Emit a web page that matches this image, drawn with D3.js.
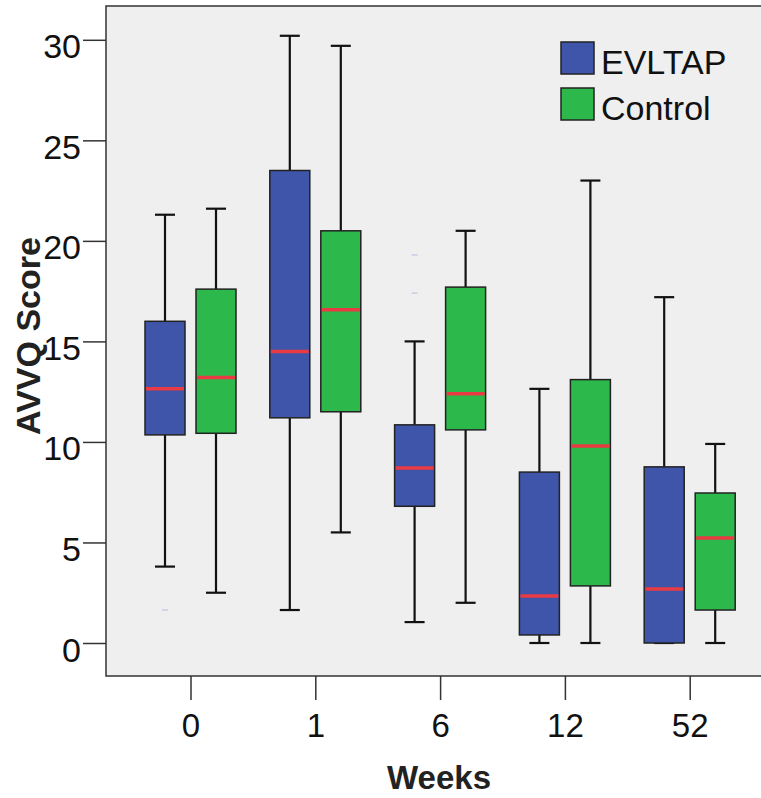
<!DOCTYPE html>
<html><head><meta charset="utf-8">
<script src="https://cdn.jsdelivr.net/npm/d3@7"></script>
<style>body{margin:0;background:#fff}svg{display:block}</style>
</head><body>
<svg id="chart" width="761" height="798"></svg>
<script>
const weeks = ["0","1","6","12","52"];
const groups = ["EVLTAP","Control"];
const colors = ["#3f55a9","#2cb84a"];
// [whiskerLow, q1, median, q3, whiskerHigh]
const evltap = [
  [3.8, 10.35, 12.64, 16.0, 21.3],
  [1.64, 11.2, 14.5, 23.5, 30.2],
  [1.04, 6.8, 8.7, 10.85, 15.0],
  [0, 0.4, 2.34, 8.5, 12.64],
  [0, 0, 2.69, 8.76, 17.2]
];
const control = [
  [2.5, 10.43, 13.2, 17.6, 21.6],
  [5.5, 11.5, 16.57, 20.5, 29.7],
  [2.0, 10.6, 12.4, 17.7, 20.5],
  [0, 2.84, 9.8, 13.1, 23.0],
  [0, 1.64, 5.22, 7.46, 9.9]
];
// outliers: [weekIndex, groupIndex, value]
const outliers = [[0,0,1.64],[2,0,19.3],[2,0,17.4]];
const yTicks = [0,5,10,15,20,25,30];

const svg = d3.select("#chart");
const L = 106, R = 774, T = 6, B = 676;
const x = d3.scalePoint().domain(weeks).range([190.5, 689.7]);
const y = d3.scaleLinear().domain([0,30]).range([643, 39.8]);
const off = d3.scaleOrdinal().domain(groups).range([-25.5, 25.5]);
const boxW = 40, capW = 20;
const font = "'Liberation Sans', Arial, sans-serif";

svg.append("rect").attr("x",L).attr("y",T).attr("width",R-L).attr("height",B-T)
  .attr("fill","#efefef").attr("stroke","#333").attr("stroke-width",1.5);

// axes
const yAxis = svg.append("g").attr("transform",`translate(${L},0)`)
  .call(d3.axisLeft(y).tickValues(yTicks).tickSize(23).tickPadding(2));
yAxis.select(".domain").remove();
yAxis.selectAll("line").attr("stroke","#333").attr("stroke-width",1.5);
yAxis.selectAll("text").attr("font-family",font).attr("font-size",34).attr("fill","#111").attr("dy",18);

const xAxis = svg.append("g").attr("transform",`translate(0,${B})`)
  .call(d3.axisBottom(x).tickSize(24).tickPadding(6));
xAxis.select(".domain").remove();
xAxis.selectAll("line").attr("stroke","#333").attr("stroke-width",1.5);
xAxis.selectAll("text").attr("font-family",font).attr("font-size",33).attr("fill","#111")
  .attr("y",61).attr("dy",0);

const data = [];
weeks.forEach((w,i)=>{
  data.push({w, g:groups[0], c:colors[0], s:evltap[i]});
  data.push({w, g:groups[1], c:colors[1], s:control[i]});
});

const gB = svg.append("g");
data.forEach(d=>{
  const cx = x(d.w) + off(d.g);
  const [lo,q1,md,q3,hi] = d.s;
  gB.append("line").attr("x1",cx).attr("x2",cx).attr("y1",y(hi)).attr("y2",y(q3))
    .attr("stroke","#111").attr("stroke-width",2.2);
  gB.append("line").attr("x1",cx).attr("x2",cx).attr("y1",y(q1)).attr("y2",y(lo))
    .attr("stroke","#111").attr("stroke-width",2.2);
  gB.append("line").attr("x1",cx-capW/2).attr("x2",cx+capW/2).attr("y1",y(hi)).attr("y2",y(hi))
    .attr("stroke","#111").attr("stroke-width",2.2);
  gB.append("line").attr("x1",cx-capW/2).attr("x2",cx+capW/2).attr("y1",y(lo)).attr("y2",y(lo))
    .attr("stroke","#111").attr("stroke-width",2.2);
  gB.append("rect").attr("x",cx-boxW/2).attr("y",y(q3)).attr("width",boxW).attr("height",y(q1)-y(q3))
    .attr("fill",d.c).attr("stroke","#222").attr("stroke-width",1.5);
  gB.append("line").attr("x1",cx-boxW/2+1).attr("x2",cx+boxW/2-1).attr("y1",y(md)).attr("y2",y(md))
    .attr("stroke","#ea3a43").attr("stroke-width",3.5);
});
outliers.forEach(([wi,gi,v])=>{
  const cx = x(weeks[wi]) + off(groups[gi]);
  svg.append("line").attr("x1",cx-3).attr("x2",cx+3).attr("y1",y(v)).attr("y2",y(v))
    .attr("stroke","#c8cce6").attr("stroke-width",1.5);
});

// legend
const lg = svg.append("g");
groups.forEach((g,i)=>{
  const yy = 42 + i*46;
  lg.append("rect").attr("x",561).attr("y",yy).attr("width",33).attr("height",32)
    .attr("fill",colors[i]).attr("stroke","#222").attr("stroke-width",1.5);
  lg.append("text").attr("x",601).attr("y",yy+32).attr("font-family",font).attr("font-size",34)
    .attr("fill","#111").text(g);
});

// titles
svg.append("text").attr("x",439).attr("y",789).attr("text-anchor","middle")
  .attr("font-family",font).attr("font-weight","bold").attr("font-size",33).attr("fill","#222").text("Weeks");
svg.append("text").attr("transform","translate(40,336) rotate(-90)").attr("text-anchor","middle")
  .attr("font-family",font).attr("font-weight","bold").attr("font-size",34).attr("fill","#222").text("AVVQ Score");
</script>
</body></html>
